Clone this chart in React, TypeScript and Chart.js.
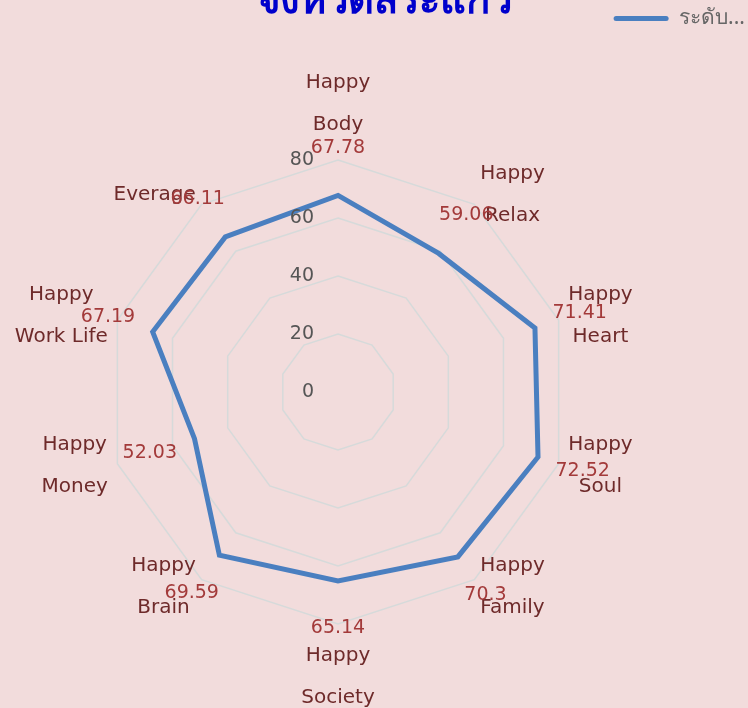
import React, { useEffect, useRef } from "react";
import { Chart, registerables } from "chart.js";

Chart.register(...registerables);

const TITLE = "จังหวัดสระแก้ว";
const SERIES_NAME = "ระดับความสุข";
const categories = [
  "Happy Body",
  "Happy Relax",
  "Happy Heart",
  "Happy Soul",
  "Happy Family",
  "Happy Society",
  "Happy Brain",
  "Happy Money",
  "Happy Work Life",
  "Everage",
];
const values = [67.78, 59.06, 71.41, 72.52, 70.3, 65.14, 69.59, 52.03, 67.19, 66.11];
const tickValues = [0, 20, 40, 60, 80];

const FONT = "'DejaVu Sans', 'Noto Sans', sans-serif";
const TITLE_FONT = "'Noto Sans', sans-serif";
const BG = "#f2dcdc";
const LINE = "#4a7fc0";
const LABEL_COLOR = "#6e2a2a";
const VALUE_COLOR = "#a33a3a";

function splitLabel(s: string): string[] {
  const i = s.indexOf(" ");
  return i < 0 ? [s] : [s.slice(0, i), s.slice(i + 1)];
}

const radarDecor = {
  id: "radarDecor",
  beforeDraw(chart: any) {
    const ctx = chart.ctx;
    ctx.save();
    ctx.fillStyle = BG;
    ctx.fillRect(0, 0, chart.width, chart.height);
    ctx.restore();
  },
  afterDatasetsDraw(chart: any) {
    const ctx = chart.ctx;
    const scale = chart.scales.r;
    ctx.save();
    // tick labels
    ctx.font = `19px ${FONT}`;
    ctx.fillStyle = "#555555";
    ctx.textAlign = "right";
    ctx.textBaseline = "middle";
    tickValues.forEach((t) => {
      const d = scale.getDistanceFromCenterForValue(t);
      ctx.fillText(String(t), scale.xCenter - 24, scale.yCenter - d);
    });
    // point labels
    const lh = 42;
    ctx.font = `20px ${FONT}`;
    ctx.fillStyle = LABEL_COLOR;
    ctx.textAlign = "center";
    categories.forEach((c, i) => {
      const lines = splitLabel(c);
      const p = scale.getPointPosition(i, scale.drawingArea + 10);
      const ang = scale.getIndexAngle(i);
      const s = Math.sin(ang);
      const co = Math.cos(ang);
      const w = Math.max(...lines.map((l) => ctx.measureText(l).width));
      let cx = p.x;
      if (s > 0.05) cx = p.x + w / 2;
      else if (s < -0.05) cx = p.x - w / 2;
      const h = lines.length * lh;
      let top = p.y - h / 2 - 1;
      if (co > 0.95) top = p.y - h - 4;
      else if (co < -0.95) top = p.y + 1;
      lines.forEach((l, k) => {
        ctx.fillText(l, cx, top + lh * k + lh / 2);
      });
    });
    // value labels
    ctx.font = `19px ${FONT}`;
    ctx.fillStyle = VALUE_COLOR;
    values.forEach((v, i) => {
      const d = scale.getDistanceFromCenterForValue(v) + 47;
      const p = scale.getPointPosition(i, d);
      ctx.fillText(String(v), p.x, p.y);
    });
    ctx.restore();
  },
};

export default function App() {
  const ref = useRef<HTMLCanvasElement | null>(null);
  useEffect(() => {
    if (!ref.current) return;
    const chart = new Chart(ref.current, {
      type: "radar",
      data: {
        labels: categories,
        datasets: [
          {
            label: SERIES_NAME,
            data: values,
            borderColor: LINE,
            backgroundColor: LINE,
            borderWidth: 5,
            fill: false,
            pointRadius: 0,
            pointHoverRadius: 0,
            tension: 0,
          },
        ],
      },
      options: {
        animation: false,
        responsive: true,
        maintainAspectRatio: false,
        layout: { padding: { left: 20, right: 0, top: 5, bottom: 84 } },
        plugins: {
          tooltip: { enabled: false },
          legend: {
            position: "top",
            align: "end",
            weight: 3000,
            labels: {
              boxWidth: 55,
              boxHeight: 5,
              padding: 3,
              color: "#666666",
              font: { size: 21, family: TITLE_FONT },
              useBorderRadius: true,
              borderRadius: 2.5,
              generateLabels: (chart: any) =>
                chart.data.datasets.map((ds: any, i: number) => ({
                  text: ds.label.length > 5 ? ds.label.slice(0, 5) + "..." : ds.label,
                  fillStyle: ds.borderColor,
                  strokeStyle: ds.borderColor,
                  lineWidth: 0,
                  fontColor: "#666666",
                  datasetIndex: i,
                  borderRadius: 2.5,
                })),
            },
          } as any,
          title: {
            display: true,
            text: TITLE,
            color: "#0000cc",
            weight: 2000,
            font: { size: 40, weight: "bold", family: TITLE_FONT, lineHeight: 1.2 },
            padding: { top: -61, bottom: 134 },
          } as any,
          // empty spacer on the right side of the plot area
          subtitle: {
            display: true,
            text: "",
            position: "right",
            font: { size: 10, lineHeight: 1.2 },
            padding: { top: 40, bottom: 40 },
          } as any,
        },
        scales: {
          r: {
            min: 0,
            max: 80,
            ticks: { display: false, stepSize: 20 },
            pointLabels: { display: false },
            angleLines: { display: false },
            grid: { color: "#d6dada", lineWidth: 1.5 },
          },
        },
      },
      plugins: [radarDecor],
    });
    return () => chart.destroy();
  }, []);
  return (
    <div style={{ position: "fixed", left: 0, top: 0, width: 748, height: 708 }}>
      <canvas ref={ref} />
    </div>
  );
}
